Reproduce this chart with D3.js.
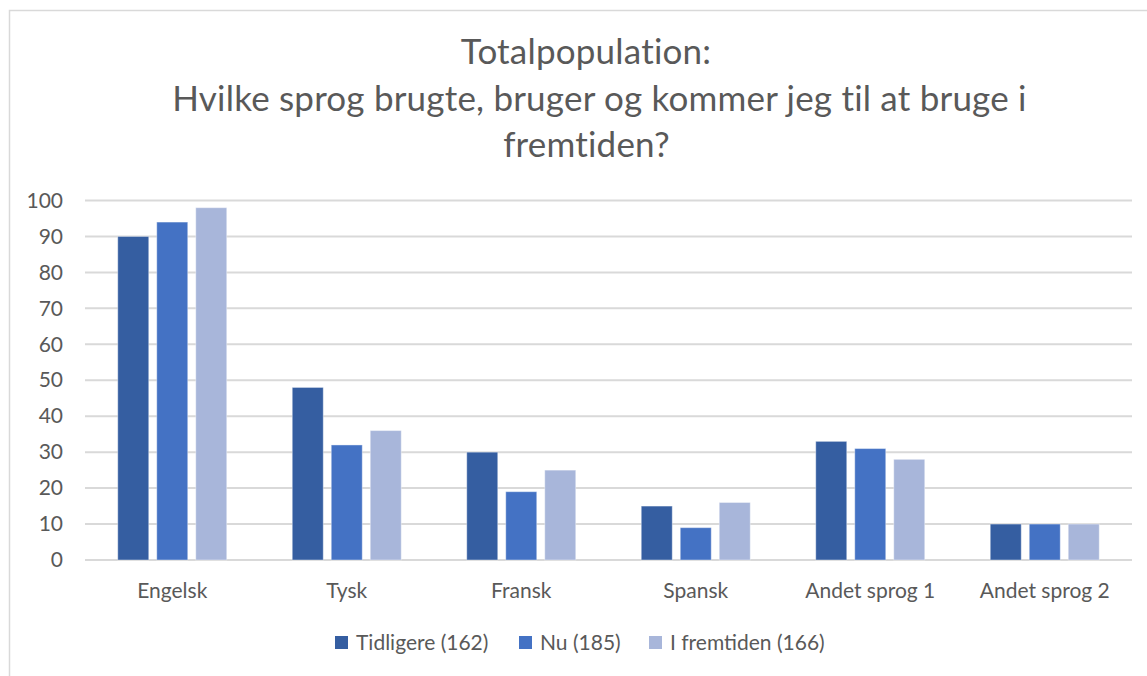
<!DOCTYPE html>
<html>
<head>
<meta charset="utf-8">
<script src="https://cdn.jsdelivr.net/npm/d3@7"></script>
<style>
  body { margin: 0; background: #fff; }
  svg { display: block; font-family: Lato, "Open Sans", sans-serif; }
</style>
</head>
<body>
<script>
const categories = ['Engelsk', 'Tysk', 'Fransk', 'Spansk', 'Andet sprog 1', 'Andet sprog 2'];
const seriesNames = ['Tidligere (162)', 'Nu (185)', 'I fremtiden (166)'];
const tidligere = [90, 48, 30, 15, 33, 10];
const nu = [94, 32, 19, 9, 31, 10];
const fremtiden = [98, 36, 25, 16, 28, 10];
const yTicks = [0, 10, 20, 30, 40, 50, 60, 70, 80, 90, 100];
const titleLines = ['Totalpopulation:', 'Hvilke sprog brugte, bruger og kommer jeg til at bruge i', 'fremtiden?'];

const colors = ['#355ea1', '#4472c4', '#a8b6da'];
const seriesValues = [tidligere, nu, fremtiden];

const width = 1147, height = 676;
const textColor = '#595959';
const gridColor = '#d9d9d9';
const labelSize = 21;
// the title lines are not centred on quite the same x in the original
const titleCenters = [586, 599.5, 586.5];

const svg = d3.select('body').append('svg')
  .attr('width', width)
  .attr('height', height);

// chart frame (cropped at right and bottom)
svg.append('rect')
  .attr('x', 9.5).attr('y', 10.5)
  .attr('width', 1200).attr('height', 700)
  .attr('fill', '#fff')
  .attr('stroke', gridColor)
  .attr('stroke-width', 1.5);

// title
svg.append('g').selectAll('text')
  .data(titleLines)
  .enter().append('text')
  .attr('x', (d, i) => titleCenters[i])
  .attr('y', (d, i) => 64 + i * 46.5)
  .attr('text-anchor', 'middle')
  .attr('fill', textColor)
  .attr('font-size', 35)
  .attr('letter-spacing', 0.2)
  .text(d => d);

const x0 = d3.scaleBand().domain(categories).range([85, 1132]);
const x1 = d3.scaleBand().domain(d3.range(3))
  .range([(x0.bandwidth() - 109) / 2, (x0.bandwidth() + 109) / 2])
  .paddingInner(0.205);
const y = d3.scaleLinear().domain([0, 100]).range([560, 200.5]);

// gridlines
svg.append('g').selectAll('line')
  .data(yTicks)
  .enter().append('line')
  .attr('x1', 85).attr('x2', 1132)
  .attr('y1', d => y(d)).attr('y2', d => y(d))
  .attr('stroke', gridColor)
  .attr('stroke-width', 2);

// y labels
const yAxis = svg.append('g')
  .attr('transform', 'translate(63,0)')
  .call(d3.axisLeft(y).tickValues(yTicks).tickSize(0).tickPadding(0));
yAxis.select('.domain').remove();
yAxis.selectAll('text')
  .attr('font-family', 'Lato, "Open Sans", sans-serif')
  .attr('font-size', labelSize)
  .attr('fill', textColor);

// bars
const groups = svg.append('g').selectAll('g')
  .data(categories)
  .enter().append('g')
  .attr('transform', d => `translate(${x0(d)},0)`);

groups.selectAll('rect')
  .data((d, ci) => seriesValues.map((vals, si) => ({ si, v: vals[ci] })))
  .enter().append('rect')
  .attr('x', d => x1(d.si))
  .attr('y', d => y(d.v))
  .attr('width', x1.bandwidth())
  .attr('height', d => y(0) - y(d.v))
  .attr('fill', d => colors[d.si])
  .attr('stroke', '#fff')
  .attr('stroke-opacity', 0.4)
  .attr('stroke-width', 1);

// category labels
const xAxis = svg.append('g')
  .attr('transform', 'translate(0,560)')
  .call(d3.axisBottom(x0).tickSize(0).tickPadding(0));
xAxis.select('.domain').remove();
xAxis.selectAll('text')
  .attr('dy', 0)
  .attr('y', 37.5)
  .attr('font-family', 'Lato, "Open Sans", sans-serif')
  .attr('font-size', labelSize)
  .attr('fill', textColor);

// legend
const legendX = [335, 519, 649];
const legend = svg.append('g').selectAll('g')
  .data(seriesNames)
  .enter().append('g')
  .attr('transform', (d, i) => `translate(${legendX[i]},636)`);
legend.append('rect')
  .attr('width', 13).attr('height', 13)
  .attr('fill', (d, i) => colors[i]);
legend.append('text')
  .attr('x', 21).attr('y', 14)
  .attr('font-size', labelSize)
  .attr('fill', textColor)
  .text(d => d);
</script>
</body>
</html>
